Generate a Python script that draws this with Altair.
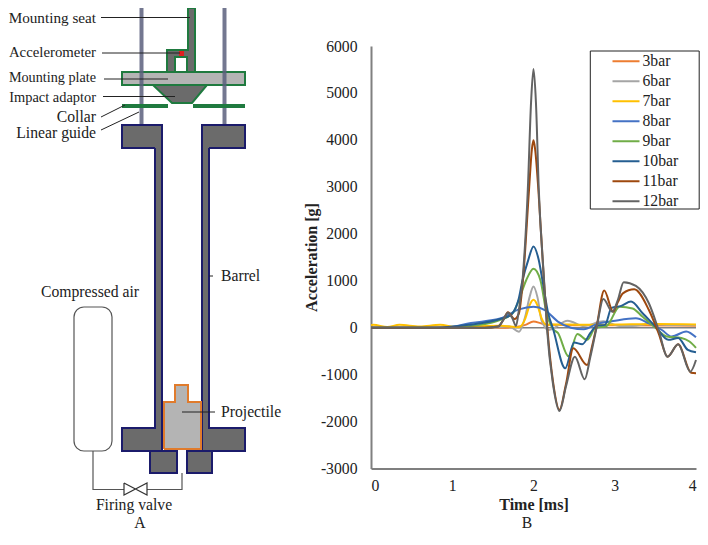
import altair as alt
import pandas as pd

FONT = "Liberation Serif"
INK = "#222222"

# ---------- chart B series: time [ms] and acceleration [g]
series_names = ["3bar", "6bar", "7bar", "8bar", "9bar", "10bar", "11bar", "12bar"]
series_colors = ["#ED7D31", "#A5A5A5", "#FFC000", "#4472C4", "#70AD47", "#255E91", "#9E480E", "#636363"]

t_3 = [0, 1.6, 1.8, 1.9, 2.0, 2.1, 2.2, 2.5, 3, 4]
g_3 = [0, 0, 20, 60, 130, 90, 60, 50, 50, 40]
t_6 = [0, 1.5, 1.7, 1.82, 1.9, 1.95, 2.0, 2.05, 2.1, 2.19, 2.42, 2.62, 2.86, 3.06, 3.22, 3.42, 3.7, 4]
g_6 = [0, 0, 30, -85, 250, 640, 877, 640, 150, -50, 150, 35, 135, 35, 35, 80, 55, 55]
t_7 = [0, 0.03, 0.2, 0.35, 0.6, 0.85, 1.05, 1.3, 1.6, 1.82, 1.9, 1.95, 2.0, 2.05, 2.1, 2.16, 2.3, 2.6, 3, 3.5, 4]
g_7 = [50, 60, 15, 60, 25, 60, 15, 30, 40, 10, 200, 470, 593, 470, 200, 60, 70, 60, 65, 80, 70]
t_8 = [0, 0.9, 1.23, 1.6, 1.82, 2.0, 2.14, 2.3, 2.46, 2.62, 2.78, 2.98, 3.26, 3.42, 3.58, 3.7, 3.88, 4]
g_8 = [0, 0, 100, 200, 390, 447, 376, 130, 0, -35, 80, 140, 200, 90, -50, -190, -80, -206]
t_9 = [0, 0.9, 1.3, 1.6, 1.75, 1.82, 1.91, 2.0, 2.085, 2.16, 2.24, 2.3, 2.43, 2.54, 2.66, 2.76, 2.9, 3.06, 3.22, 3.34, 3.5, 3.64, 3.82, 3.92, 4]
g_9 = [0, 0, 50, 170, 320, 590, 1010, 1254, 1010, 315, -30, -112, -610, -135, -260, -10, 35, 447, 410, 237, 0, -190, -220, -296, -430]
t_10 = [0, 0.8, 1.2, 1.6, 1.72, 1.745, 1.815, 1.865, 1.936, 2.0, 2.064, 2.11, 2.18, 2.243, 2.39, 2.5, 2.6, 2.7, 2.78, 2.88, 2.96, 3.08, 3.2, 3.34, 3.5, 3.66, 3.78, 3.9, 4]
g_10 = [0, 0, 60, 190, 270, 315, 593, 1010, 1445, 1730, 1445, 1010, 315, -40, -865, -317, -353, -112, 40, 60, 420, 465, 557, 313, 25, -260, -220, -475, -525]
t_11 = [0, 1.4, 1.565, 1.63, 1.685, 1.765, 1.82, 1.87, 1.945, 1.98, 2.0, 2.02, 2.06, 2.128, 2.17, 2.24, 2.32, 2.4, 2.49, 2.66, 2.72, 2.78, 2.87, 2.98, 3.04, 3.1, 3.24, 3.42, 3.54, 3.65, 3.78, 3.94, 4]
g_11 = [0, 0, 25, 170, 330, 185, 300, 1010, 2940, 3800, 3990, 3800, 2940, 1010, 0, -1150, -1750, -1200, -440, -795, -400, 60, 790, 340, 550, 730, 816, 376, -120, -618, -355, -960, -970]
t_12 = [0, 1.4, 1.565, 1.63, 1.685, 1.74, 1.785, 1.82, 1.865, 1.93, 1.97, 2.0, 2.03, 2.065, 2.13, 2.165, 2.24, 2.32, 2.4, 2.51, 2.63, 2.7, 2.78, 2.86, 2.97, 3.04, 3.11, 3.26, 3.42, 3.54, 3.65, 3.78, 3.93, 4]
g_12 = [0, 0, 25, 170, 320, 200, 35, 380, 1010, 2940, 4800, 5510, 4800, 2940, 1010, 0, -1200, -1775, -1250, -618, -1100, -620, 30, 610, 340, 600, 970, 890, 520, -50, -618, -355, -937, -690]

all_t = [t_3, t_6, t_7, t_8, t_9, t_10, t_11, t_12]
all_g = [g_3, g_6, g_7, g_8, g_9, g_10, g_11, g_12]
y_ticks = [6000, 5000, 4000, 3000, 2000, 1000, 0, -1000, -2000, -3000]
x_ticks = [0, 1, 2, 3, 4]

rows = []
for name, ts, gs in zip(series_names, all_t, all_g):
    for a, b in zip(ts, gs):
        rows.append({"series": name, "t": a, "g": b})
lines_df = pd.DataFrame(rows)

# ---------- schematic A, in the drawing's own coordinates
GREY, LIGHT, GREEN, NAVY, ORANGE = "#6b6b6b", "#b4b4b4", "#1f7a3f", "#1b1b6b", "#E07B2C"
rod = "#5a5f7d"
# x, x2, y, y2, fill, stroke, stroke width, opacity
boxes = [
    (122, 245, 72, 85, LIGHT, GREEN, 2, 1),
    (139.5, 143.5, 8, 125, rod, "transparent", 0, 0.85),
    (222.5, 226.5, 8, 125, rod, "transparent", 0, 0.85),
    (122, 168, 104, 108, GREEN, "transparent", 0, 1),
    (193, 245, 104, 108, GREEN, "transparent", 0, 1),
    (188, 195, 8, 72, GREY, "transparent", 0, 1),
    (167, 188, 50, 57, GREY, "transparent", 0, 1),
    (167, 175, 57, 72, GREY, "transparent", 0, 1),
    (122, 162, 125, 148, GREY, "transparent", 0, 1),
    (202, 245, 125, 148, GREY, "transparent", 0, 1),
    (155, 162, 148, 428, GREY, "transparent", 0, 1),
    (202, 209, 148, 428, GREY, "transparent", 0, 1),
    (122, 162, 428, 451, GREY, "transparent", 0, 1),
    (202, 245, 428, 451, GREY, "transparent", 0, 1),
    (150, 177, 451, 473, GREY, NAVY, 2, 1),
    (187, 212, 451, 473, GREY, NAVY, 2, 1),
    (164, 201, 402, 449, LIGHT, "transparent", 0, 1),
    (175, 188, 385, 402, LIGHT, "transparent", 0, 1),
    (179, 184, 50, 57, "#E02020", "transparent", 0, 1),
]
boxes_df = pd.DataFrame(boxes, columns=["x", "x2", "y", "y2", "fill", "stroke", "sw", "op"])

adaptor_x = [153, 172, 192, 207]
adaptor_top = [85, 85, 85, 85]
adaptor_bottom = [85, 103, 103, 85]
adaptor_df = pd.DataFrame({"x": adaptor_x, "y": adaptor_top, "y2": adaptor_bottom})

tank_df = pd.DataFrame([{"x": 74, "x2": 112, "y": 307, "y2": 451}])

paths = [
    (GREEN, 2, [(195, 8), (188, 8), (188, 50), (167, 50), (167, 72), (175, 72), (175, 57), (187, 57), (187, 72), (195, 72), (195, 8)]),
    (GREEN, 2, [(153, 85), (172, 103), (192, 103), (207, 85), (153, 85)]),
    (NAVY, 2, [(155, 148), (122, 148), (122, 125), (162, 125), (162, 451), (122, 451), (122, 428), (155, 428), (155, 148)]),
    (NAVY, 2, [(209, 148), (245, 148), (245, 125), (202, 125), (202, 451), (245, 451), (245, 428), (209, 428), (209, 148)]),
    (ORANGE, 2, [(164, 449), (164, 402), (175, 402), (175, 385), (188, 385), (188, 402), (201, 402), (201, 449), (164, 449)]),
    ("#555555", 1.2, [(93, 451), (93, 489.5), (124, 489.5)]),
    ("#555555", 1.2, [(147, 489.5), (182, 489.5), (182, 473)]),
    ("#333333", 1.2, [(124, 483), (147, 495), (147, 483), (124, 495), (124, 483)]),
    (INK, 1, [(101, 17.5), (190, 17.5)]),
    (INK, 1, [(102, 53), (180, 53)]),
    (INK, 1, [(104, 79), (168, 79)]),
    (INK, 1, [(103, 96.5), (175, 96.5)]),
    (INK, 1, [(101, 117), (125, 105)]),
    (INK, 1, [(101, 130), (139, 112)]),
    (INK, 1, [(209, 276), (213, 276)]),
    (INK, 1, [(182, 412), (215, 412)]),
]
path_rows = []
for i, (col, w, pts) in enumerate(paths):
    for j, (px, py) in enumerate(pts):
        path_rows.append({"id": i, "k": j, "x": px, "y": py, "col": col, "w": w})
paths_df = pd.DataFrame(path_rows)

labels = [
    ("Mounting seat", 96, 18, "right", 15.2),
    ("Accelerometer", 96, 53, "right", 14.8),
    ("Mounting plate", 96, 78, "right", 14.2),
    ("Impact adaptor", 96, 98, "right", 14.4),
    ("Collar", 96, 117, "right", 15.7),
    ("Linear guide", 96, 133, "right", 15.7),
    ("Barrel", 221, 276, "left", 15.7),
    ("Compressed air", 90, 292, "center", 15.7),
    ("Projectile", 221, 412, "left", 15.7),
    ("Firing valve", 134, 505, "center", 15.7),
    ("A", 140, 522.5, "center", 15.7),
    ("B", 527, 522.5, "center", 15.7),
]
labels_df = pd.DataFrame(labels, columns=["text", "x", "y", "align", "size"])

CHART_W, CHART_H = 692, 524
sx = alt.Scale(domain=[8, 8 + CHART_W], range=[0, CHART_W], nice=False, zero=False)
sy = alt.Scale(domain=[8, 8 + CHART_H], range=[0, CHART_H], nice=False, zero=False)
X = alt.X("x:Q", scale=sx, axis=None)
Y = alt.Y("y:Q", scale=sy, axis=None)

box_layer = alt.Chart(boxes_df).mark_rect().encode(
    x=X, x2="x2:Q", y=Y, y2="y2:Q",
    fill=alt.Fill("fill:N", scale=None),
    stroke=alt.Stroke("stroke:N", scale=None),
    strokeWidth=alt.StrokeWidth("sw:Q", scale=None),
    opacity=alt.Opacity("op:Q", scale=None),
)
adaptor_layer = alt.Chart(adaptor_df).mark_area(color=GREY, interpolate="linear").encode(x=X, y=Y, y2="y2:Q")
tank_layer = alt.Chart(tank_df).mark_rect(fill="white", stroke="#555555", strokeWidth=1.2, cornerRadius=10).encode(
    x=X, x2="x2:Q", y=Y, y2="y2:Q")
path_layer = alt.Chart(paths_df).mark_line(interpolate="linear").encode(
    x=X, y=Y, detail="id:N", order="k:Q",
    stroke=alt.Stroke("col:N", scale=None),
    strokeWidth=alt.StrokeWidth("w:Q", scale=None),
)
text_layers = []
for al in ["left", "center", "right"]:
    text_layers.append(
        alt.Chart(labels_df[labels_df["align"] == al]).mark_text(font=FONT, align=al, baseline="middle", color=INK).encode(
            x=X, y=Y, text="text:N", size=alt.Size("size:Q", scale=None))
    )

# ---------- panel B: its own scales, laid inside the same view
T_RANGE = [363, 688]
G_RANGE = [460.5, 38]
t_scale = alt.Scale(domain=[0, 4], range=T_RANGE, nice=False)
g_scale = alt.Scale(domain=[-3000, 6000], range=G_RANGE, nice=False)
gx = alt.X("t:Q", scale=t_scale,
           axis=alt.Axis(values=x_ticks, format="d", grid=False, ticks=False, domainColor="#555555", domainWidth=1.5,
                         offset=-(CHART_H - G_RANGE[0]),
                         labelFont=FONT, labelFontSize=15.7, labelColor=INK, labelPadding=10,
                         title="Time [ms]", titleFont=FONT, titleFontSize=16, titleFontWeight="bold", titleColor=INK,
                         titlePadding=3))
gy = alt.Y("g:Q", scale=g_scale,
           axis=alt.Axis(values=y_ticks, labelExpr="'' + datum.value", grid=False, ticks=False,
                         domainColor="#808080", domainWidth=2, offset=-T_RANGE[0],
                         labelFont=FONT, labelFontSize=15.7, labelColor=INK, labelPadding=14,
                         title="Acceleration [g]", titleFont=FONT, titleFontSize=16, titleFontWeight="bold", titleColor=INK,
                         titleX=-52, titleY=249))
gx_plain = alt.X("t:Q", scale=t_scale, axis=None)
gy_plain = alt.Y("g:Q", scale=g_scale, axis=None)

zero_rule = alt.Chart(pd.DataFrame({"t": [0], "t2": [4], "g": [0]})).mark_rule(color="#808080", strokeWidth=1.5).encode(
    x=gx_plain, x2="t2:Q", y=gy_plain)
series_lines = alt.Chart(lines_df).mark_line(interpolate="monotone", strokeWidth=2).encode(
    x=gx, y=gy,
    color=alt.Color("series:N", sort=series_names,
                    scale=alt.Scale(domain=series_names, range=series_colors),
                    legend=alt.Legend(orient="none", legendX=603.5, legendY=43.3, title=None,
                                      symbolType="stroke", symbolSize=729, symbolStrokeWidth=2,
                                      labelFont=FONT, labelFontSize=15.7, labelColor=INK,
                                      clipHeight=19.9, rowPadding=0, labelOffset=2, padding=0)),
    order=alt.Order("ord:Q"),
).transform_calculate(ord="indexof(%s, datum.series)" % str(series_names))
legend_box = alt.Chart(pd.DataFrame({"a": [1]})).mark_rect(fill="transparent", stroke="#222222", strokeWidth=1).encode(
    x=alt.value(582.3), x2=alt.value(691.2), y=alt.value(43), y2=alt.value(201))

chart = alt.layer(box_layer, adaptor_layer, tank_layer, path_layer, *text_layers, zero_rule, series_lines, legend_box
    ).resolve_scale(x="independent", y="independent"
    ).properties(width=CHART_W, height=CHART_H, padding=0, background="white",
                 autosize=alt.AutoSizeParams(type="none", contains="padding")
    ).configure_view(stroke=None)
chart.save("out.html", embed_options={"renderer": "svg", "actions": False})
